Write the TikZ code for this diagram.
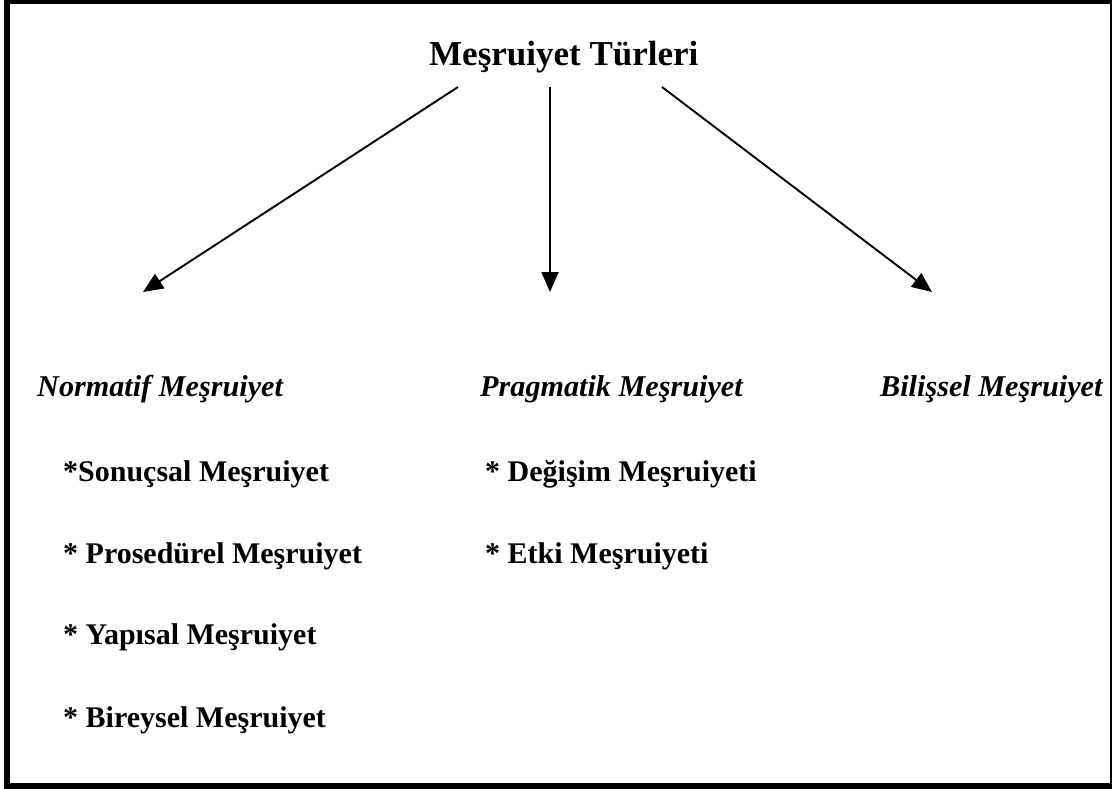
\documentclass[tikz,border=0pt]{standalone}
\usepackage{fontspec}
\setmainfont{Liberation Serif}
\usetikzlibrary{arrows.meta}
\begin{document}
\begin{tikzpicture}[x=1pt,y=-1pt,
  titletext/.style={font=\fontsize{35}{40}\selectfont\bfseries,anchor=base west,inner sep=0pt},
  cattext/.style={font=\fontsize{30.2}{34}\selectfont\bfseries\itshape,anchor=base west,inner sep=0pt},
  itemtext/.style={font=\fontsize{30}{34}\selectfont\bfseries,anchor=base west,inner sep=0pt},
  branch/.style={line width=1.9pt,-{Triangle[length=20pt,width=17pt]}}]
\useasboundingbox (0,0) rectangle (1112,789);
% outer frame
\draw[line width=6pt] (7,1) rectangle (1113,786);

% heading
\node[titletext] (title) at (429,66) {Meşruiyet Türleri};

% three kinds of legitimacy
\node[cattext] (norm) at (37,396) {Normatif Meşruiyet};
\node[cattext] (prag) at (480,396) {Pragmatik Meşruiyet};
\node[cattext] (bil)  at (880,396) {Bilişsel Meşruiyet};

% sub-types
\node[itemtext] (sonuc) at (63,481) {*Sonuçsal Meşruiyet};
\node[itemtext] (pros)  at (63,563) {* Prosedürel Meşruiyet};
\node[itemtext] (yap)   at (63,644) {* Yapısal Meşruiyet};
\node[itemtext] (birey) at (63,727) {* Bireysel Meşruiyet};
\node[itemtext] (degis) at (485,481) {* Değişim Meşruiyeti};
\node[itemtext] (etki)  at (485,563) {* Etki Meşruiyeti};

% arrow ends
\coordinate (sL) at (458,87);
\coordinate (sM) at (550,87);
\coordinate (sR) at (662,87);
\coordinate (tL) at (143,292);
\coordinate (tM) at (550,292);
\coordinate (tR) at (932,292);

\draw[branch] (sL) -- (tL);
\draw[branch] (sM) -- (tM);
\draw[branch] (sR) -- (tR);
\end{tikzpicture}
\end{document}
